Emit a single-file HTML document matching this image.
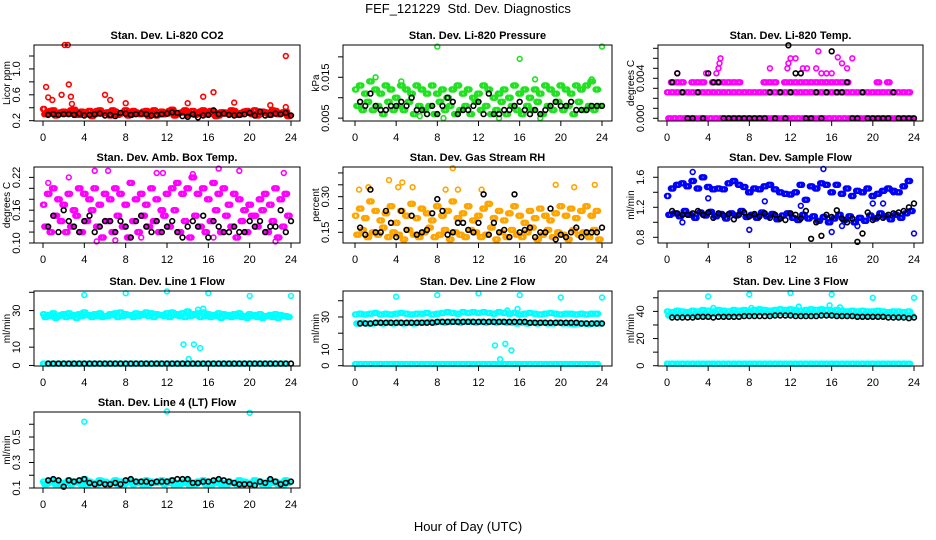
<!DOCTYPE html>
<html><head><meta charset="utf-8"><style>
body{margin:0;background:#fff;}
svg{display:block;font-family:"Liberation Sans",Arial,sans-serif;}
</style></head><body>
<svg id="chart" width="936" height="540" viewBox="0 0 936 540">
<rect x="0" y="0" width="936" height="540" fill="#fff"/>
<text x="468" y="13" text-anchor="middle" font-size="13">FEF_121229&#160; Std. Dev. Diagnostics</text>
<text x="468" y="531" text-anchor="middle" font-size="13">Hour of Day (UTC)</text>
</svg>
<script>
// ---------- data ----------
const co2RedA=[0.38,0.33,0.36,0.30,0.34,0.31,0.37,0.29,0.33,0.35,0.30,0.36,0.32,0.28,0.34,0.31,0.36,0.29,0.33,0.30,0.35,0.32,0.28,0.34,0.31,0.37,0.30,0.33,0.29,0.35,0.32,0.36,0.30,0.34,0.28,0.33,0.31,0.35,0.29,0.34,0.32,0.36,0.30,0.33,0.29,0.35,0.31,0.34];
const co2RedB=[0.30,0.35,0.28,0.33,0.31,0.36,0.29,0.34,0.30,0.27,0.35,0.31,0.33,0.36,0.29,0.32,0.28,0.35,0.31,0.34,0.27,0.36,0.33,0.30,0.35,0.28,0.32,0.36,0.31,0.29,0.34,0.30,0.35,0.27,0.33,0.31,0.36,0.29,0.32,0.35,0.30,0.28,0.34,0.31,0.36,0.30,0.33,0.27];
const co2Black=[0.29,0.30,0.29,0.30,0.30,0.29,0.31,0.28,0.29,0.30,0.31,0.28,0.29,0.27,0.32,0.31,0.29,0.30,0.31,0.30,0.28,0.29,0.30,0.31,0.33,0.32,0.27,0.26,0.30,0.25,0.28,0.29,0.36,0.30,0.31,0.29,0.28,0.29,0.30,0.32,0.28,0.34,0.28,0.29,0.31,0.30,0.32,0.28];
const co2Out=[[2.1,1.37],[2.4,1.37],[0.3,0.72],[2.5,0.76],[1.8,0.6],[6,0.6],[6.5,0.52],[2.7,0.57],[23.5,1.2],[16.5,0.64],[15.5,0.57],[18.5,0.48],[14,0.47],[0.5,0.56],[0.9,0.52],[8,0.47],[23.5,0.41],[22,0.44],[2.8,0.46]];

const presA=[0.012,0.013,0.011,0.014,0.012,0.011,0.013,0.012,0.010,0.013,0.012,0.011,0.013,0.012,0.011,0.013,0.011,0.012,0.010,0.012,0.013,0.011,0.012,0.010,0.011,0.013,0.012,0.010,0.011,0.012,0.010,0.013,0.011,0.012,0.010,0.012,0.011,0.013,0.012,0.011,0.013,0.012,0.011,0.013,0.012,0.013,0.014,0.012];
const presB=[0.008,0.007,0.009,0.007,0.008,0.006,0.009,0.007,0.008,0.007,0.009,0.006,0.008,0.007,0.008,0.006,0.009,0.007,0.008,0.006,0.007,0.008,0.006,0.009,0.007,0.008,0.006,0.007,0.009,0.006,0.008,0.007,0.006,0.008,0.007,0.009,0.006,0.008,0.007,0.009,0.007,0.008,0.006,0.009,0.007,0.008,0.007,0.008];
const presBlack=[0.009,0.008,0.011,0.008,0.007,0.007,0.008,0.008,0.009,0.008,0.010,0.007,0.007,0.006,0.008,0.006,0.008,0.010,0.009,0.006,0.007,0.007,0.008,0.009,0.006,0.011,0.006,0.006,0.007,0.007,0.008,0.009,0.007,0.006,0.007,0.006,0.007,0.008,0.009,0.008,0.008,0.009,0.007,0.007,0.007,0.008,0.008,0.008];
const presOut=[[8,0.0225],[16,0.0195],[24,0.0225],[2,0.015],[4.5,0.014],[17.5,0.0145],[23,0.0145],[18,0.005],[14,0.005],[8.6,0.005],[6.3,0.0055]];

const tempA=[0.0026,0.0026,0.0026,0.0026,0.0026,0.0026,0.0026,0.0026,0.0026,0.0026,0.0026,0.0026,0.0026,0.0026,0.0026,0.0026,0.0026,0.0026,0.0026,0.0026,0.0026,0.0026,0.0026,0.0026,0.0026,0.0026,0.0026,0.0026,0.0026,0.0026,0.0026,0.0026,0.0026,0.0026,0.0026,0.0026,0.0026,0.0026,0.0026,0.0026,0.0026,0.0026,0.0026,0.0026,0.0026,0.0026,0.0026,0.0026];
const tempB=[0,0,0,0,0,0,0,0,0,0,0,0,0,0,0,0,0,0,0,0,0,0,0,0,0,0,0,0,0,0,0,0,0,0,0,0,0,0,0,0,0,0,0,0,0,0,0,0];
const tempC=[null,0.0036,0.0036,0.0036,null,0.0036,0.0036,0.0036,null,0.0036,0.0036,0.0036,0.0036,0.0036,0.0036,null,null,null,null,0.0036,0.0036,0.0036,null,0.0036,0.0036,0.0036,0.0036,0.0036,0.0036,0.0036,0.0036,0.0036,0.0036,0.0036,0.0036,0.0036,null,null,null,null,null,0.0036,null,0.0036,null,null,null,null];
const tempOut=[[1,0.0045],[3.8,0.0045],[5,0.005],[5.1,0.0055],[5.2,0.006],[4.8,0.0045],[10,0.005],[12,0.006],[11.8,0.0055],[11.7,0.005],[12.5,0.006],[13.2,0.005],[13.6,0.005],[14.7,0.0067],[16,0.0045],[16.6,0.0061],[17,0.0055],[17.5,0.005],[18,0.006],[14.5,0.005],[15,0.0045],[15.5,0.0045]];
const tempBlack=[0.0036,0.0045,0.0026,0,0,0.0026,0,0.0045,0.0036,0.0036,0,0,0,0,0,0,0,0,0,0.0026,0,0.0026,0,0.0026,0.0045,0.0045,0,0,0.0026,0,0.0026,0.0067,0.0026,0.0026,0.0036,0,0,0.0026,0,0,0,0,0,0.0026,0,0,0,0];
const tempBlackOut=[[11.8,0.0073]];

const ambA=[0.17,0.19,0.20,0.18,0.17,0.19,0.16,0.20,0.19,0.18,0.20,0.17,0.19,0.18,0.20,0.19,0.17,0.21,0.18,0.19,0.17,0.20,0.18,0.16,0.19,0.20,0.21,0.19,0.20,0.22,0.19,0.20,0.18,0.21,0.19,0.20,0.17,0.19,0.18,0.16,0.17,0.15,0.18,0.19,0.17,0.20,0.18,0.19];
const ambB=[0.13,0.12,0.15,0.14,0.12,0.13,0.15,0.12,0.14,0.16,0.13,0.11,0.14,0.12,0.15,0.13,0.11,0.14,0.12,0.15,0.13,0.14,0.12,0.15,0.13,0.16,0.12,0.14,0.11,0.15,0.13,0.12,0.14,0.16,0.12,0.15,0.13,0.11,0.14,0.12,0.15,0.13,0.16,0.12,0.14,0.11,0.13,0.15];
const ambOut=[[5,0.232],[6.3,0.232],[2.5,0.22],[0.5,0.21],[11,0.228],[11.6,0.228],[17,0.236],[19,0.232],[23.3,0.228],[14.5,0.226],[7,0.105],[5.2,0.103],[22.5,0.103],[9.5,0.11],[16.5,0.11]];
const ambBlack=[0.13,0.15,0.12,0.16,0.14,0.13,0.12,0.14,0.15,0.12,0.13,0.14,0.14,0.12,0.14,0.13,0.11,0.14,0.15,0.13,0.12,0.14,0.12,0.13,0.14,0.12,0.11,0.13,0.14,0.13,0.15,0.11,0.14,0.13,0.12,0.12,0.13,0.12,0.12,0.14,0.13,0.14,0.12,0.13,0.13,0.16,0.12,0.14];

const rhA=[0.22,0.25,0.21,0.28,0.24,0.20,0.23,0.26,0.19,0.24,0.22,0.27,0.21,0.25,0.23,0.20,0.26,0.22,0.24,0.28,0.21,0.23,0.26,0.20,0.22,0.25,0.27,0.21,0.24,0.20,0.23,0.26,0.22,0.19,0.24,0.21,0.25,0.22,0.20,0.23,0.26,0.22,0.25,0.21,0.24,0.26,0.22,0.24];
const rhB=[0.14,0.16,0.13,0.15,0.14,0.17,0.13,0.15,0.14,0.12,0.16,0.14,0.13,0.15,0.17,0.13,0.14,0.16,0.12,0.15,0.14,0.13,0.16,0.15,0.13,0.14,0.17,0.12,0.15,0.13,0.16,0.14,0.13,0.15,0.17,0.12,0.14,0.16,0.13,0.15,0.14,0.12,0.16,0.14,0.15,0.13,0.16,0.12];
const rhOut=[[1.3,0.34],[3.3,0.37],[4.6,0.36],[5.6,0.34],[9.5,0.42],[10,0.33],[4.2,0.34],[8.8,0.33],[19.5,0.35],[23.3,0.35],[21.3,0.34],[0.4,0.33],[12.3,0.33]];
const rhBlack=[0.17,0.14,0.33,0.15,0.15,0.24,0.19,0.13,0.24,0.16,0.22,0.14,0.15,0.16,0.23,0.29,0.24,0.14,0.15,0.19,0.19,0.16,0.15,0.19,0.31,0.14,0.19,0.15,0.16,0.13,0.31,0.15,0.16,0.17,0.13,0.15,0.15,0.25,0.12,0.14,0.13,0.15,0.17,0.13,0.15,0.15,0.15,0.17];

const flowA=[1.35,1.45,1.50,1.52,1.48,1.55,1.45,1.60,1.47,1.44,1.45,1.44,1.52,1.55,1.50,1.47,1.40,1.45,1.44,1.48,1.50,1.44,1.40,1.38,1.37,1.40,1.50,1.30,1.48,1.45,1.52,1.50,1.40,1.50,1.38,1.45,1.35,1.42,1.40,1.45,1.35,1.38,1.42,1.45,1.42,1.40,1.48,1.55];
const flowB=[1.10,1.12,1.08,1.15,1.10,1.06,1.13,1.09,1.14,1.08,1.11,1.05,1.12,1.09,1.15,1.07,1.10,1.06,1.13,1.08,1.11,1.04,1.09,1.12,1.06,1.03,1.10,1.05,1.08,1.02,1.07,1.00,1.05,1.10,1.03,1.08,1.00,1.06,1.02,1.09,1.05,1.12,1.08,1.04,1.10,1.06,1.12,1.15];
const flowOut=[[2.5,1.67],[15.2,1.71],[8,0.9],[16,0.87],[24,0.85],[1.5,1.0],[4,1.32],[9.5,1.28],[13,1.22],[20,1.25],[21,1.25],[22,1.4],[17,0.95],[18.5,0.95]];
const flowBlack=[1.15,1.12,1.10,1.10,1.12,1.15,1.10,1.13,1.06,1.12,1.09,1.11,1.04,1.10,1.13,1.08,1.11,1.08,1.12,1.06,1.10,1.05,1.03,1.12,1.10,1.05,1.15,0.78,1.00,0.82,1.10,1.07,1.16,1.05,1.00,1.05,0.74,0.85,1.13,1.03,1.07,1.06,1.10,1.12,1.13,1.15,1.20,1.25];

const l1A=[28,27.5,28.5,27,28,28.5,27.5,28,29,27.5,28,28.5,27,28,28.5,29,28,27.5,28.5,28,29,28.5,28,27.5,28.5,29,28,28.5,29.5,28,28.5,29,28,27.5,28.5,28,27.5,28,28.5,27,28,27.5,28,27,27.5,28,27.5,27];
const l1B=[26.5,27,26,27.5,26.5,27,26,27,27.5,26.5,27,26.5,27,27.5,26.5,27,27.5,26.5,27,27.5,27,26.5,27.5,27,26.5,27.5,27,26.5,27,27.5,26.5,27,26.5,27,26,27,26.5,27,26.5,26,27,26.5,26,27,26.5,26,27,26.5];
const l1Low=[1,1,1,1,1,1,1,1,1,1,1,1,1,1,1,1,1,1,1,1,1,1,1,1,1,1,1,1,1,1,1,1,1,1,1,1,1,1,1,1,1,1,1,1,1,1,1,1];
const l1Black=[1,1,1,1,1,1,1,1,1,1,1,1,1,1,1,1,1,1,1,1,1,1,1,1,1,1,1,1,1,1,1,1,1,1,1,1,1,1,1,1,1,1,1,1,1,1,1,1];
const l1Out=[[4,38.5],[8,39.5],[12,40.5],[16,39.5],[20,38],[24,38],[13.6,11.5],[14.6,11.5],[15.2,9.5],[14.1,3.5],[15,30.5],[15.5,31]];

const l2A=[31.5,32,31.5,32,32.5,31.5,32,31.5,32,32.5,32,31.5,32,32,32.5,31.5,32,32.5,33,32.5,32,33,32.5,33,32.5,33,32.5,32,33,32.5,32,32.5,31.5,32,32.5,32,31.5,32,32.5,32,31.5,32,32,31.5,32,31.5,32,32];
const l2B=[26,26.5,26,26,26.5,26,26.5,26,26.5,26,26.5,26,26.5,26.5,27,26.5,27,26.5,27,27,26.5,27,27,26.5,27,26.5,27,26.5,27,26.5,26.5,26,26.5,26,26.5,26,26.5,26,26,26.5,26,26,25.5,26,26,25.5,26,26];
const l2Low=[1,1,1,1,1,1,1,1,1,1,1,1,1,1,1,1,1,1,1,1,1,1,1,1,1,1,1,1,1,1,1,1,1,1,1,1,1,1,1,1,1,1,1,1,1,1,1,1];
const l2Black=[26,26,26,26.5,26.5,26.5,26.5,26.5,26.5,26.5,26.5,26.5,26.5,26.5,26.5,27,27,27,27,27,27,27,27,27,27,27,27,27,27,27,27,27,27,26.5,26.5,26.5,26.5,26.5,26.5,26.5,26.5,26.5,26.5,26,26,26,26,26];
const l2Out=[[4,42.5],[8,43.5],[12,44.5],[16,43.5],[20,42],[24,42],[13.6,12.5],[14.6,13.5],[15.2,9.5],[14.1,4],[14.8,34],[15.8,35]];

const l3A=[40,39.5,40.5,40,39.5,40.5,40,41,40.5,40,41,40.5,40,41,40.5,41,40.5,41,41.5,41,40.5,41,41.5,41,41.5,41,40.5,41,41.5,41,41.5,41,40.5,41,40.5,40,40.5,40,40.5,40,40,40.5,40,39.5,40,40,39.5,40];
const l3B=[37,37.5,37,38,37.5,37,38,37.5,38,38.5,38,37.5,38,38.5,38,38.5,38,38.5,39,38.5,38,38.5,39,38.5,38,38.5,38,38.5,38,38.5,38,37.5,38,37.5,38,37.5,37,37.5,37,37.5,37,37.5,37,37.5,37,36.5,37,37];
const l3Low=[1.5,1.5,1.5,1.5,1.5,1.5,1.5,1.5,1.5,1.5,1.5,1.5,1.5,1.5,1.5,1.5,1.5,1.5,1.5,1.5,1.5,1.5,1.5,1.5,1.5,1.5,1.5,1.5,1.5,1.5,1.5,1.5,1.5,1.5,1.5,1.5,1.5,1.5,1.5,1.5,1.5,1.5,1.5,1.5,1.5,1.5,1.5,1.5];
const l3Black=[35.5,35.5,35.5,35.5,35.5,36,36,36,35.5,36,36,36,36,36,36.5,36.5,36.5,36.5,36.5,36.5,37,37,37,37,36.5,36.5,36.5,36.5,36.5,37,37,37,36.5,36.5,36.5,36.5,36,36,36,36,36,36,35.5,35.5,35.5,35.5,35,35.5];
const l3Out=[[4,51],[8,52.5],[12,53.5],[16,52.5],[20,50],[24,50],[4.5,42.5],[8.2,42.5],[12.8,43.5],[15.8,44.5],[16.8,43]];

const l4A=[0.15,0.14,0.16,0.15,0.14,0.16,0.15,0.14,0.17,0.15,0.14,0.16,0.15,0.14,0.16,0.15,0.14,0.16,0.15,0.14,0.16,0.15,0.14,0.16,0.15,0.16,0.14,0.15,0.16,0.14,0.15,0.16,0.14,0.15,0.16,0.14,0.15,0.14,0.16,0.15,0.14,0.16,0.15,0.14,0.16,0.15,0.14,0.16];
const l4B=[0.13,0.15,0.13,0.12,0.14,0.13,0.15,0.13,0.12,0.14,0.13,0.15,0.12,0.14,0.13,0.12,0.15,0.13,0.14,0.12,0.13,0.14,0.15,0.13,0.14,0.12,0.13,0.14,0.12,0.13,0.15,0.13,0.12,0.14,0.13,0.12,0.14,0.13,0.12,0.14,0.13,0.15,0.13,0.12,0.14,0.13,0.12,0.14];
const l4Black=[0.16,0.17,0.16,0.11,0.16,0.15,0.16,0.17,0.14,0.13,0.14,0.13,0.13,0.14,0.13,0.16,0.17,0.15,0.15,0.15,0.14,0.15,0.15,0.15,0.16,0.17,0.17,0.17,0.14,0.14,0.15,0.15,0.16,0.17,0.16,0.15,0.14,0.13,0.13,0.13,0.12,0.15,0.14,0.17,0.15,0.13,0.14,0.15];
const l4Out=[[4,0.62],[12,0.70],[20,0.69]];

const xTicks=[0,4,8,12,16,20,24];
// ---------- layout ----------
const colBox=[[34,300,43,291],[343,612,355,602],[658,923,667,914]];
const rowBox=[[45,121],[167,243],[291,366],[412,488]];
const RED='#ff0000',GRN='#22e022',MAG='#ff00ff',BLU='#0000ff',CYN='#00ffff',ORG='#ffa500',BLK='#000000';

const panels=[
 {name:'co2',title:'Stan. Dev. Li-820 CO2',ylab:'Licor ppm',c:0,r:0,ymin:0.195,ymax:1.37,ticks:[0.2,0.4,0.6,0.8,1.0,1.2],labels:{0.2:'0.2',0.6:'0.6',1.0:'1.0'},
  series:[[co2RedA,'A',RED],[co2RedB,'B',RED],[co2Out,'P',RED],[co2Black,'K',BLK]]},
 {name:'pressure',title:'Stan. Dev. Li-820 Pressure',ylab:'kPa',c:1,r:0,ymin:0.0043,ymax:0.0229,ticks:[0.005,0.010,0.015,0.020],labels:{0.005:'0.005',0.015:'0.015'},
  series:[[presA,'A',GRN],[presB,'B',GRN],[presOut,'P',GRN],[presBlack,'K',BLK]]},
 {name:'li820-temp',title:'Stan. Dev. Li-820 Temp.',ylab:'degrees C',c:2,r:0,ymin:-0.00027,ymax:0.00733,ticks:[0,0.001,0.002,0.003,0.004,0.005,0.006,0.007],labels:{0:'0.000',0.004:'0.004'},
  series:[[tempA,'A',MAG],[tempB,'B',MAG],[tempC,'A',MAG],[tempOut,'P',MAG],[tempBlack,'K',BLK],[tempBlackOut,'P',BLK]]},
 {name:'amb-box-temp',title:'Stan. Dev. Amb. Box Temp.',ylab:'degrees C',c:0,r:1,ymin:0.10,ymax:0.239,ticks:[0.10,0.12,0.14,0.16,0.18,0.20,0.22],labels:{0.10:'0.10',0.16:'0.16',0.22:'0.22'},
  series:[[ambA,'A',MAG],[ambB,'B',MAG],[ambOut,'P',MAG],[ambBlack,'K',BLK]]},
 {name:'gas-stream-rh',title:'Stan. Dev. Gas Stream RH',ylab:'percent',c:1,r:1,ymin:0.105,ymax:0.425,ticks:[0.15,0.20,0.25,0.30,0.35,0.40],labels:{0.15:'0.15',0.30:'0.30'},
  series:[[rhA,'A',ORG],[rhB,'B',ORG],[rhOut,'P',ORG],[rhBlack,'K',BLK]]},
 {name:'sample-flow',title:'Stan. Dev. Sample Flow',ylab:'ml/min',c:2,r:1,ymin:0.724,ymax:1.737,ticks:[0.8,1.0,1.2,1.4,1.6],labels:{0.8:'0.8',1.2:'1.2',1.6:'1.6'},
  series:[[flowA,'A',BLU],[flowB,'B',BLU],[flowOut,'P',BLU],[flowBlack,'K',BLK]]},
 {name:'line1-flow',title:'Stan. Dev. Line 1 Flow',ylab:'ml/min',c:0,r:2,ymin:-0.3,ymax:40.7,ticks:[0,10,20,30,40],labels:{0:'0',10:'10',30:'30'},
  series:[[l1A,'A',CYN],[l1B,'B',CYN],[l1Low,'A',CYN],[l1Out,'P',CYN],[l1Black,'K',BLK]]},
 {name:'line2-flow',title:'Stan. Dev. Line 2 Flow',ylab:'ml/min',c:1,r:2,ymin:-0.2,ymax:46,ticks:[0,10,20,30,40],labels:{0:'0',10:'10',30:'30'},
  series:[[l2A,'A',CYN],[l2B,'B',CYN],[l2Low,'A',CYN],[l2Out,'P',CYN],[l2Black,'K',BLK]]},
 {name:'line3-flow',title:'Stan. Dev. Line 3 Flow',ylab:'ml/min',c:2,r:2,ymin:-0.2,ymax:55,ticks:[0,10,20,30,40,50],labels:{0:'0',20:'20',40:'40'},
  series:[[l3A,'A',CYN],[l3B,'B',CYN],[l3Low,'A',CYN],[l3Out,'P',CYN],[l3Black,'K',BLK]]},
 {name:'line4-flow',title:'Stan. Dev. Line 4 (LT) Flow',ylab:'ml/min',c:0,r:3,ymin:0.1,ymax:0.696,ticks:[0.1,0.2,0.3,0.4,0.5,0.6],labels:{0.1:'0.1',0.3:'0.3',0.5:'0.5'},
  series:[[l4A,'A',CYN],[l4B,'B',CYN],[l4Out,'P',CYN],[l4Black,'K',BLK]]}
];

const svg=document.getElementById('chart');
const NS='http://www.w3.org/2000/svg';
function mk(tag,attrs,parent){const e=document.createElementNS(NS,tag);for(const k in attrs)e.setAttribute(k,attrs[k]);parent.appendChild(e);return e;}

panels.forEach(p=>{
  const [bx0,bx1,hx0,hx24]=colBox[p.c];
  const [by0,by1]=rowBox[p.r];
  const xS=h=>hx0+(hx24-hx0)*h/24;
  const yS=v=>by1-(v-p.ymin)/(p.ymax-p.ymin)*(by1-by0);
  const g=mk('g',{},svg);
  
  
  const t=mk('text',{x:(bx0+bx1)/2,y:by0-6,'text-anchor':'middle','font-size':'11','font-weight':'bold'},g);
  t.textContent=p.title;
  
  
  const pts=mk('g',{fill:'none','stroke-width':'1.6'},g);
  
  
  p.series.forEach(([arr,kind,col])=>{
    arr.forEach((v,i)=>{
      let h,val;
      if(kind==='P'){h=v[0];val=v[1];}
      else{val=v;h=kind==='A'?i*0.5:kind==='B'?0.25+i*0.5:0.5+i*0.5;}
      if(val===null)return;
      const cy=yS(val).toFixed(1);
      // dense coloured bands: each sample drawn as a small cluster of markers
      const offs=(kind==='A'||kind==='B')?[-0.125,0,0.125]:[0];
      offs.forEach(o=>{
        if(h+o<0||h+o>24)return;
        const c=mk('circle',{cx:xS(h+o).toFixed(1),cy:cy,r:'2.4',stroke:col},pts);
        
        
      });
    });
  });
  const b=mk('rect',{x:bx0,y:by0,width:bx1-bx0,height:by1-by0,fill:'none',stroke:'#000','stroke-width':'1'},g);
  
  
  const xa=mk('g',{stroke:'#000','stroke-width':'1'},g);
  
  
  mk('line',{x1:xS(0),x2:xS(24),y1:by1,y2:by1},xa);
  xTicks.forEach(h=>{
    mk('line',{x1:xS(h),x2:xS(h),y1:by1,y2:by1+5},xa);
    const tl=mk('text',{x:xS(h),y:by1+20,'text-anchor':'middle','font-size':'11',stroke:'none',fill:'#000'},xa);
    tl.textContent=String(h);
    
    
  });
  const ya=mk('g',{stroke:'#000','stroke-width':'1'},g);
  
  
  const tk=p.ticks;
  mk('line',{x1:bx0,x2:bx0,y1:yS(tk[0]),y2:yS(tk[tk.length-1])},ya);
  tk.forEach(v=>{
    mk('line',{x1:bx0-5,x2:bx0,y1:yS(v),y2:yS(v)},ya);
    if(p.labels[v]!==undefined){
      const lx=bx0-14,ly=yS(v);
      const tl=mk('text',{x:lx,y:ly,'text-anchor':'middle','font-size':'11',stroke:'none',fill:'#000',transform:`rotate(-90 ${lx} ${ly})`},ya);
      tl.textContent=p.labels[v];
      
      
    }
  });
  const yl=bx0-24,yy=(by0+by1)/2;
  const ylab=mk('text',{x:yl,y:yy,'text-anchor':'middle','font-size':'10',transform:`rotate(-90 ${yl} ${yy})`},g);
  ylab.textContent=p.ylab;
  
  
});
</script>
</body></html>
